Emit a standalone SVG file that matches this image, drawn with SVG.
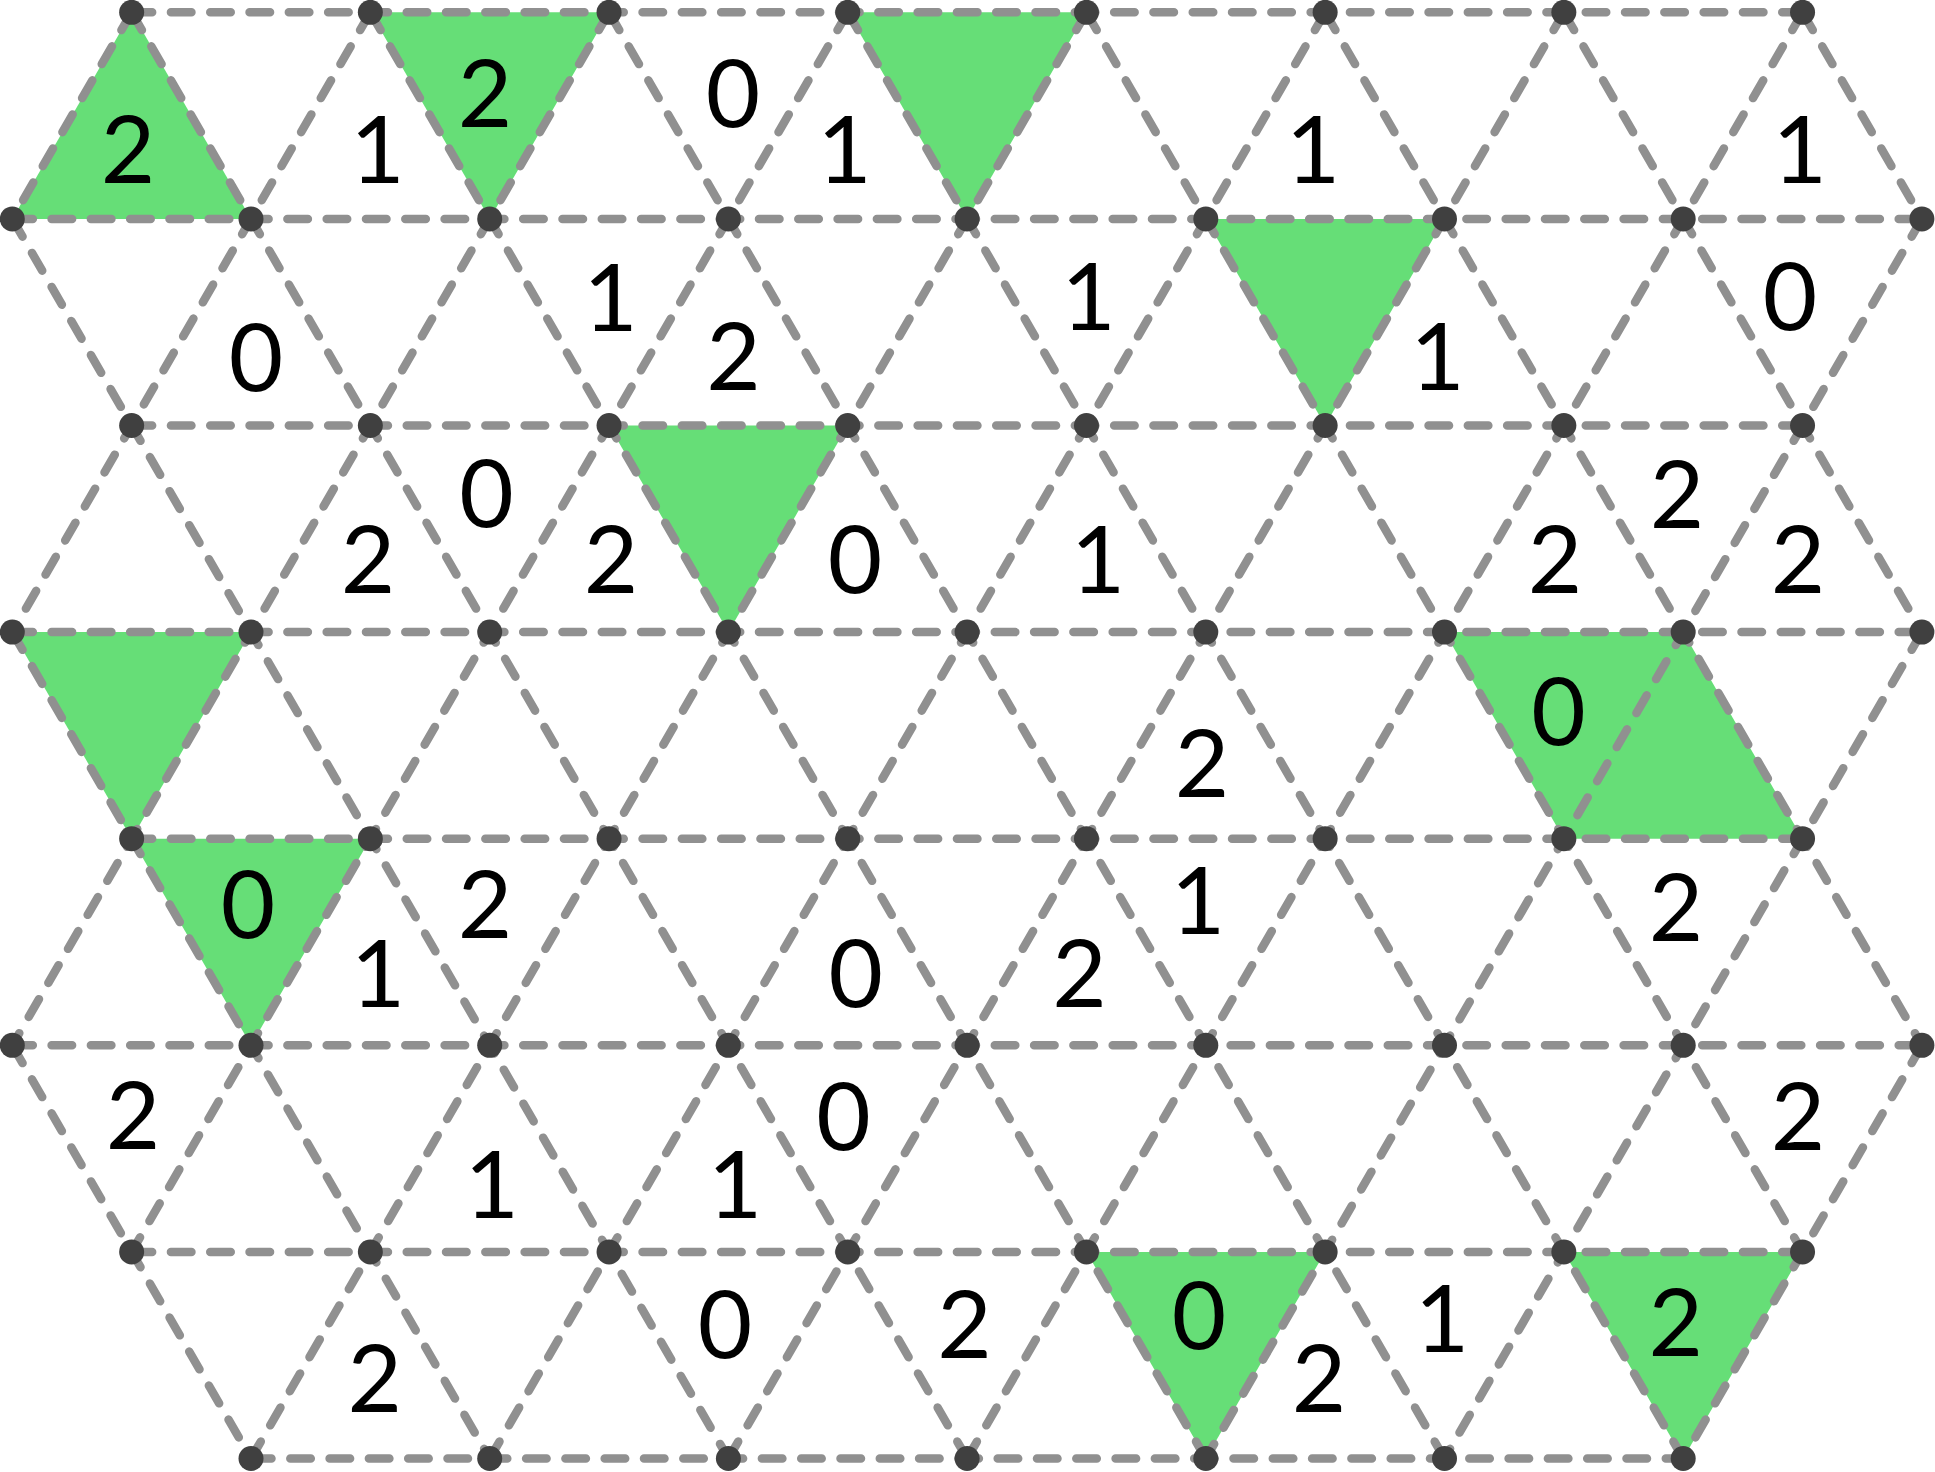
<svg xmlns="http://www.w3.org/2000/svg" width="1935" height="1472" viewBox="0 0 1935 1472">
<style>
.g{fill:#66DE77;stroke:none}
.l{stroke:#909090;stroke-width:8.5;stroke-linecap:round;stroke-dasharray:20.5 18.8;fill:none}
.d{fill:#404040}
.t{font-family:Lato,"Liberation Sans",sans-serif;font-size:94px;fill:#000;text-anchor:middle}
</style>
<rect width="1935" height="1472" fill="#fff"/>
<g id="shaded">
<polygon class="g" points="131.65,12.3 12.3,218.9 251,218.9"/>
<polygon class="g" points="370.35,12.3 609.05,12.3 489.7,218.9"/>
<polygon class="g" points="847.75,12.3 1086.45,12.3 967.1,218.9"/>
<polygon class="g" points="1205.8,218.9 1444.5,218.9 1325.15,425.5"/>
<polygon class="g" points="609.05,425.5 847.75,425.5 728.4,632.1"/>
<polygon class="g" points="12.3,632.1 251,632.1 131.65,838.7"/>
<polygon class="g" points="131.65,838.7 370.35,838.7 251,1045.3"/>
<polygon class="g" points="1444.5,632.1 1683.2,632.1 1802.55,838.7 1563.85,838.7"/>
<polygon class="g" points="1086.45,1251.9 1325.15,1251.9 1205.8,1458.5"/>
<polygon class="g" points="1563.85,1251.9 1802.55,1251.9 1683.2,1458.5"/>
</g>
<g id="connectors">
<line class="l" x1="131.65" y1="12.3" x2="1802.55" y2="12.3"/>
<line class="l" x1="12.3" y1="218.9" x2="1921.9" y2="218.9"/>
<line class="l" x1="131.65" y1="425.5" x2="1802.55" y2="425.5"/>
<line class="l" x1="12.3" y1="632.1" x2="1921.9" y2="632.1"/>
<line class="l" x1="131.65" y1="838.7" x2="1802.55" y2="838.7"/>
<line class="l" x1="12.3" y1="1045.3" x2="1921.9" y2="1045.3"/>
<line class="l" x1="131.65" y1="1251.9" x2="1802.55" y2="1251.9"/>
<line class="l" x1="251" y1="1458.5" x2="1683.2" y2="1458.5"/>
<line class="l" x1="12.3" y1="1045.3" x2="251" y2="1458.5"/>
<line class="l" x1="12.3" y1="632.1" x2="489.7" y2="1458.5"/>
<line class="l" x1="12.3" y1="218.9" x2="728.4" y2="1458.5"/>
<line class="l" x1="131.65" y1="12.3" x2="967.1" y2="1458.5"/>
<line class="l" x1="370.35" y1="12.3" x2="1205.8" y2="1458.5"/>
<line class="l" x1="609.05" y1="12.3" x2="1444.5" y2="1458.5"/>
<line class="l" x1="847.75" y1="12.3" x2="1683.2" y2="1458.5"/>
<line class="l" x1="1086.45" y1="12.3" x2="1802.55" y2="1251.9"/>
<line class="l" x1="1325.15" y1="12.3" x2="1921.9" y2="1045.3"/>
<line class="l" x1="1563.85" y1="12.3" x2="1921.9" y2="632.1"/>
<line class="l" x1="1802.55" y1="12.3" x2="1921.9" y2="218.9"/>
<line class="l" x1="131.65" y1="12.3" x2="12.3" y2="218.9"/>
<line class="l" x1="370.35" y1="12.3" x2="12.3" y2="632.1"/>
<line class="l" x1="609.05" y1="12.3" x2="12.3" y2="1045.3"/>
<line class="l" x1="847.75" y1="12.3" x2="131.65" y2="1251.9"/>
<line class="l" x1="1086.45" y1="12.3" x2="251" y2="1458.5"/>
<line class="l" x1="1325.15" y1="12.3" x2="489.7" y2="1458.5"/>
<line class="l" x1="1563.85" y1="12.3" x2="728.4" y2="1458.5"/>
<line class="l" x1="1802.55" y1="12.3" x2="967.1" y2="1458.5"/>
<line class="l" x1="1921.9" y1="218.9" x2="1205.8" y2="1458.5"/>
<line class="l" x1="1921.9" y1="632.1" x2="1444.5" y2="1458.5"/>
<line class="l" x1="1921.9" y1="1045.3" x2="1683.2" y2="1458.5"/>
</g>
<g id="nodes" class="d">
<g id="row0">
<circle cx="131.65" cy="12.3" r="12.5"/><circle cx="370.35" cy="12.3" r="12.5"/><circle cx="609.05" cy="12.3" r="12.5"/><circle cx="847.75" cy="12.3" r="12.5"/><circle cx="1086.45" cy="12.3" r="12.5"/><circle cx="1325.15" cy="12.3" r="12.5"/><circle cx="1563.85" cy="12.3" r="12.5"/><circle cx="1802.55" cy="12.3" r="12.5"/>
</g>
<g id="row1">
<circle cx="12.3" cy="218.9" r="12.5"/><circle cx="251" cy="218.9" r="12.5"/><circle cx="489.7" cy="218.9" r="12.5"/><circle cx="728.4" cy="218.9" r="12.5"/><circle cx="967.1" cy="218.9" r="12.5"/><circle cx="1205.8" cy="218.9" r="12.5"/><circle cx="1444.5" cy="218.9" r="12.5"/><circle cx="1683.2" cy="218.9" r="12.5"/><circle cx="1921.9" cy="218.9" r="12.5"/>
</g>
<g id="row2">
<circle cx="131.65" cy="425.5" r="12.5"/><circle cx="370.35" cy="425.5" r="12.5"/><circle cx="609.05" cy="425.5" r="12.5"/><circle cx="847.75" cy="425.5" r="12.5"/><circle cx="1086.45" cy="425.5" r="12.5"/><circle cx="1325.15" cy="425.5" r="12.5"/><circle cx="1563.85" cy="425.5" r="12.5"/><circle cx="1802.55" cy="425.5" r="12.5"/>
</g>
<g id="row3">
<circle cx="12.3" cy="632.1" r="12.5"/><circle cx="251" cy="632.1" r="12.5"/><circle cx="489.7" cy="632.1" r="12.5"/><circle cx="728.4" cy="632.1" r="12.5"/><circle cx="967.1" cy="632.1" r="12.5"/><circle cx="1205.8" cy="632.1" r="12.5"/><circle cx="1444.5" cy="632.1" r="12.5"/><circle cx="1683.2" cy="632.1" r="12.5"/><circle cx="1921.9" cy="632.1" r="12.5"/>
</g>
<g id="row4">
<circle cx="131.65" cy="838.7" r="12.5"/><circle cx="370.35" cy="838.7" r="12.5"/><circle cx="609.05" cy="838.7" r="12.5"/><circle cx="847.75" cy="838.7" r="12.5"/><circle cx="1086.45" cy="838.7" r="12.5"/><circle cx="1325.15" cy="838.7" r="12.5"/><circle cx="1563.85" cy="838.7" r="12.5"/><circle cx="1802.55" cy="838.7" r="12.5"/>
</g>
<g id="row5">
<circle cx="12.3" cy="1045.3" r="12.5"/><circle cx="251" cy="1045.3" r="12.5"/><circle cx="489.7" cy="1045.3" r="12.5"/><circle cx="728.4" cy="1045.3" r="12.5"/><circle cx="967.1" cy="1045.3" r="12.5"/><circle cx="1205.8" cy="1045.3" r="12.5"/><circle cx="1444.5" cy="1045.3" r="12.5"/><circle cx="1683.2" cy="1045.3" r="12.5"/><circle cx="1921.9" cy="1045.3" r="12.5"/>
</g>
<g id="row6">
<circle cx="131.65" cy="1251.9" r="12.5"/><circle cx="370.35" cy="1251.9" r="12.5"/><circle cx="609.05" cy="1251.9" r="12.5"/><circle cx="847.75" cy="1251.9" r="12.5"/><circle cx="1086.45" cy="1251.9" r="12.5"/><circle cx="1325.15" cy="1251.9" r="12.5"/><circle cx="1563.85" cy="1251.9" r="12.5"/><circle cx="1802.55" cy="1251.9" r="12.5"/>
</g>
<g id="row7">
<circle cx="251" cy="1458.5" r="12.5"/><circle cx="489.7" cy="1458.5" r="12.5"/><circle cx="728.4" cy="1458.5" r="12.5"/><circle cx="967.1" cy="1458.5" r="12.5"/><circle cx="1205.8" cy="1458.5" r="12.5"/><circle cx="1444.5" cy="1458.5" r="12.5"/><circle cx="1683.2" cy="1458.5" r="12.5"/>
</g>
</g>
<g id="labels" class="t">
<text x="128" y="183">2</text>
<text x="377.5" y="183">1</text>
<text x="485" y="127.4">2</text>
<text x="733" y="127">0</text>
<text x="844.5" y="183">1</text>
<text x="1313" y="183">1</text>
<text x="1799.7" y="183">1</text>
<text x="256" y="391">0</text>
<text x="610.5" y="331">1</text>
<text x="733.5" y="389.6">2</text>
<text x="1088.6" y="330">1</text>
<text x="1437.5" y="390">1</text>
<text x="1790" y="330">0</text>
<text x="486.5" y="527">0</text>
<text x="368" y="593">2</text>
<text x="611" y="593">2</text>
<text x="855" y="592.6">0</text>
<text x="1098" y="592.6">1</text>
<text x="1555" y="592.6">2</text>
<text x="1677" y="527.5">2</text>
<text x="1798" y="592.6">2</text>
<text x="1558.4" y="744.5">0</text>
<text x="1202" y="797">2</text>
<text x="248" y="937.8">0</text>
<text x="485" y="937.8">2</text>
<text x="378" y="1007">1</text>
<text x="1198" y="933.7">1</text>
<text x="855.7" y="1007">0</text>
<text x="1079.6" y="1007">2</text>
<text x="1676" y="940.6">2</text>
<text x="133" y="1148.6">2</text>
<text x="491.7" y="1217.5">1</text>
<text x="735" y="1217.5">1</text>
<text x="843.5" y="1150">0</text>
<text x="1798" y="1150">2</text>
<text x="725" y="1358">0</text>
<text x="964.5" y="1358">2</text>
<text x="1199" y="1348.5">0</text>
<text x="1319" y="1412">2</text>
<text x="1442" y="1352">1</text>
<text x="1675.7" y="1355.6">2</text>
<text x="374.8" y="1412">2</text>
</g>
</svg>
